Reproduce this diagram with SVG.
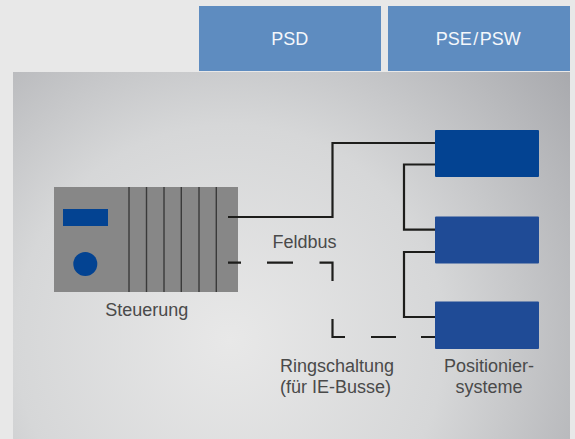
<svg xmlns="http://www.w3.org/2000/svg" width="575" height="439" viewBox="0 0 575 439">
<style>
text{font-family:"Liberation Sans",Arial,sans-serif;font-size:18px;fill:#4a4a4a;text-anchor:middle}
.h{fill:#f4f7fb}
.l{text-anchor:start}
.tab{fill:#5e8cc0}
.w{fill:none;stroke:#1d1d1b;stroke-width:2.2}
.d{stroke:#3a3a3a;stroke-width:1.4}
</style>
<defs>
<radialGradient id="bg" gradientUnits="userSpaceOnUse" cx="230" cy="340" r="430">
<stop offset="0" stop-color="#e8e8e8"/>
<stop offset=".5" stop-color="#d6d7d8"/>
<stop offset="1" stop-color="#a9aaae"/>
</radialGradient>
</defs>
<rect width="575" height="439" fill="#e8e8e8"/>
<rect x="13" y="72" width="557" height="367" fill="url(#bg)"/>
<g id="tab-psd"><rect class="tab" x="199" y="6" width="182" height="65"/><text class="h" x="289.700" y="45">PSD</text></g>
<g id="tab-pse"><rect class="tab" x="388" y="6" width="182" height="65"/><text class="h" x="478.300" y="45">PSE<tspan dx="1.500">/</tspan><tspan dx="1.500">PSW</tspan></text></g>
<g id="steuerung">
<rect x="54" y="187" width="184" height="105" fill="#878787"/>
<rect x="63" y="209" width="45" height="17" fill="#034392"/>
<circle cx="85.300" cy="264" r="12" fill="#034392"/>
<path class="d" d="M129 187V292M146.500 187V292M164 187V292M181.300 187V292M199 187V292M216.300 187V292"/>
<text x="146.700" y="316">Steuerung</text>
</g>
<g id="pos1"><rect x="435" y="130" width="104" height="47" rx="1" fill="#034392"/></g>
<g id="pos2"><rect x="435" y="216.500" width="104" height="47" rx="1" fill="#1f4b96"/></g>
<g id="pos3"><rect x="435" y="301.500" width="104" height="47.500" rx="1" fill="#1f4b96"/></g>
<g id="connectors">
<path class="w" d="M228 217H332.500V143H435"/>
<path class="w" d="M435 164.500H404V229.700H435"/>
<path class="w" d="M435 252H404V317H435"/>
<path class="w" d="M228 262.600H241M267 262.600H293M319.500 262.600H332.500V281M332.500 319V337H345M371 337H396M421 337H435"/>
</g>
<text id="feldbus" x="304.500" y="248">Feldbus</text>
<g id="ring"><text class="l" x="280" y="372">Ringschaltung</text><text class="l" x="280" y="393">(für IE-Busse)</text></g>
<g id="label-pos"><text x="489" y="372">Positionier-</text><text x="489" y="393">systeme</text></g>
</svg>
